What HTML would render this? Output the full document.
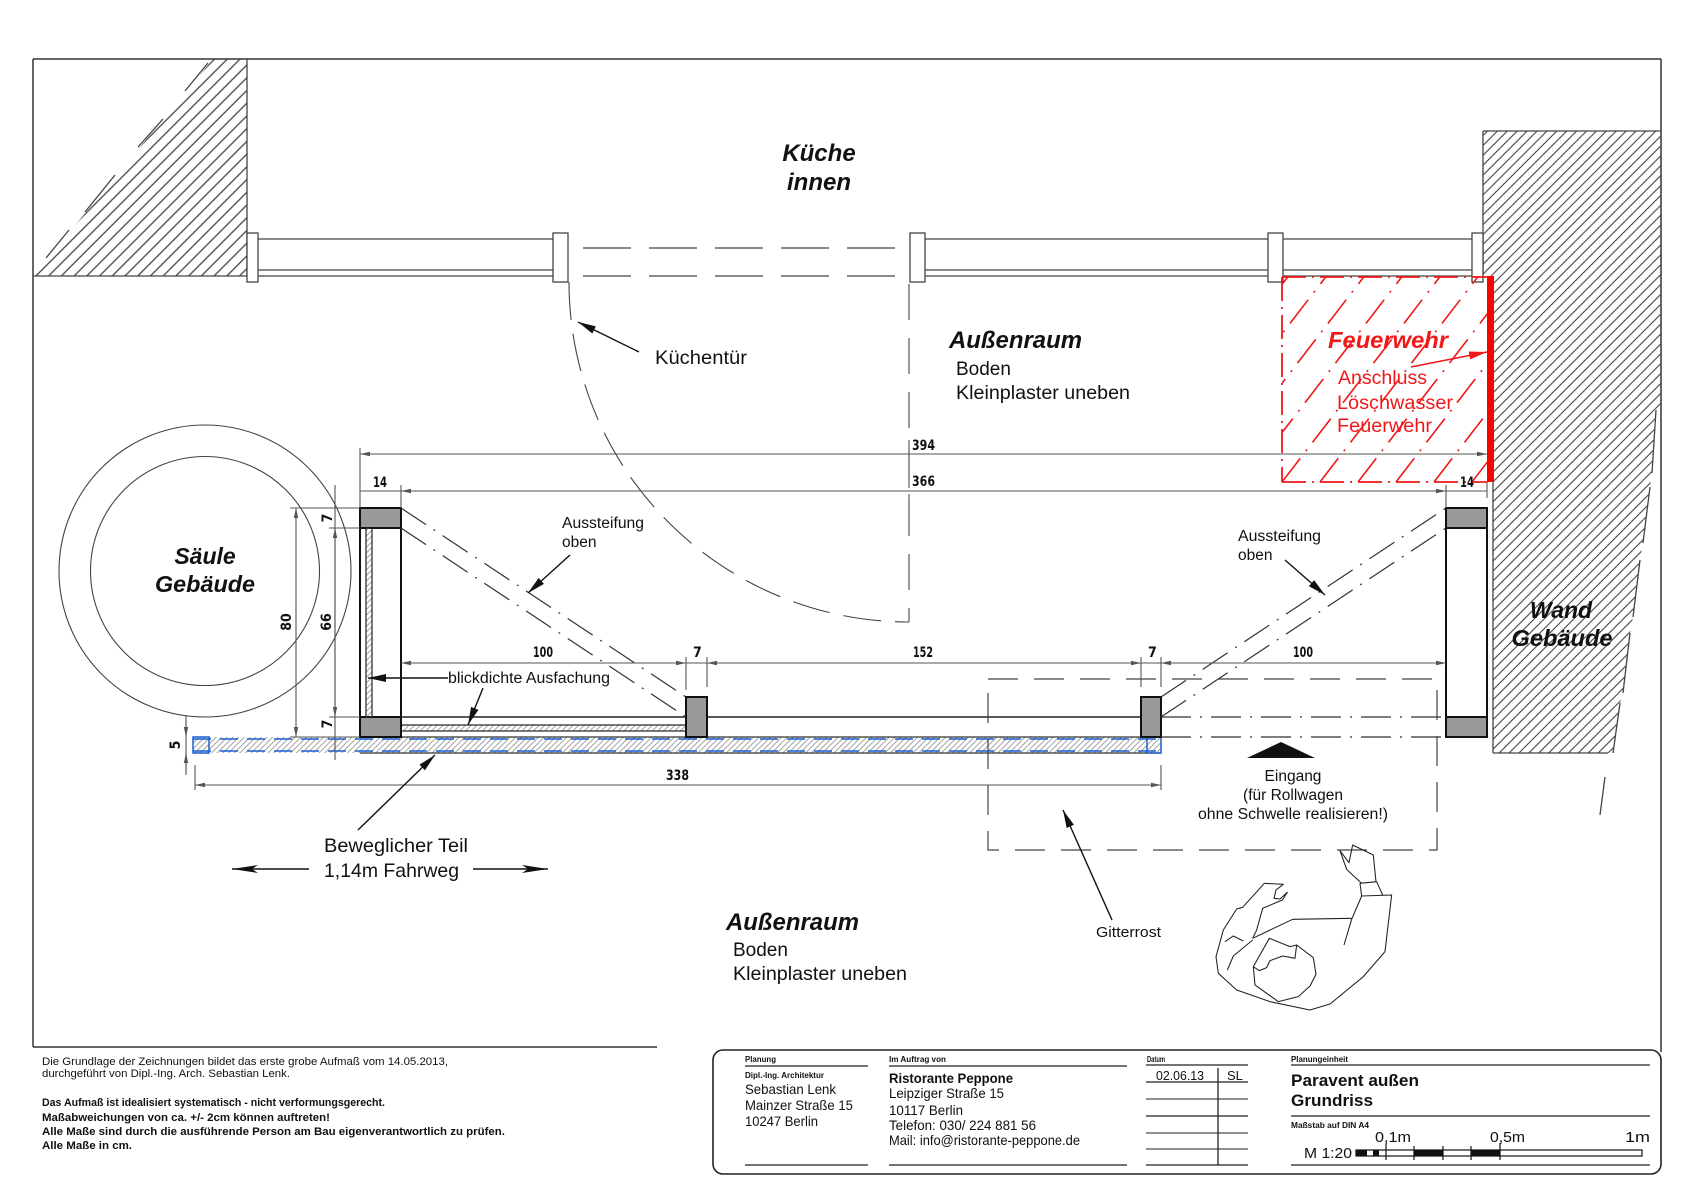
<!DOCTYPE html>
<html><head><meta charset="utf-8"><style>
html,body{margin:0;padding:0;background:#fff;}
svg{display:block;}
text{font-family:"Liberation Sans",Arial,sans-serif;fill:#111;}
.bi{font-weight:bold;font-style:italic;}
.b{font-weight:bold;}
.dim{font-family:"Liberation Sans Narrow","DejaVu Sans Condensed","Liberation Sans",sans-serif;font-weight:bold;font-size:14px;}
.red{fill:#f01818;}
</style></head><body>
<svg width="1698" height="1200" viewBox="0 0 1698 1200" xmlns="http://www.w3.org/2000/svg">
<defs>
<pattern id="hL" width="9" height="9" patternUnits="userSpaceOnUse" patternTransform="rotate(45)"><line x1="4.5" y1="0" x2="4.5" y2="9" stroke="#444" stroke-width="1.3"/></pattern>
<pattern id="hR" width="7" height="7" patternUnits="userSpaceOnUse" patternTransform="rotate(45)"><line x1="3.5" y1="0" x2="3.5" y2="7" stroke="#444" stroke-width="1.1"/></pattern>
<pattern id="hB" width="4" height="4" patternUnits="userSpaceOnUse" patternTransform="rotate(45)"><line x1="2" y1="0" x2="2" y2="4" stroke="#999" stroke-width="0.9"/></pattern>
<clipPath id="cpL"><polygon points="33,276 247,276 247,59 213,59"/></clipPath>
<clipPath id="cpR"><polygon points="1483,131 1661,131 1661,405 1656,410 1652,473 1650,487 1643,543 1640,560 1633,617 1630,633 1623,693 1620,703 1613,753 1493,753 1493,276 1483,276"/></clipPath>
<clipPath id="cpF"><rect x="1282" y="276" width="205" height="206"/></clipPath>
<marker id="ar" viewBox="0 0 10 6" refX="10" refY="3" markerWidth="10" markerHeight="6" markerUnits="userSpaceOnUse" orient="auto-start-reverse"><path d="M0,0.8 L10,3 L0,5.2z" fill="#555"/></marker>
<marker id="arK" viewBox="0 0 18 8" refX="18" refY="4" markerWidth="18" markerHeight="8" markerUnits="userSpaceOnUse" orient="auto"><path d="M0,0 L18,4 L0,8z" fill="#111"/></marker>
<marker id="arW" viewBox="0 0 26 8" refX="26" refY="4" markerWidth="26" markerHeight="8" markerUnits="userSpaceOnUse" orient="auto"><path d="M0,0 L26,4 L0,8 L6,4z" fill="#111"/></marker>
<marker id="arRed" viewBox="0 0 18 8" refX="18" refY="4" markerWidth="18" markerHeight="8" markerUnits="userSpaceOnUse" orient="auto"><path d="M0,0 L18,4 L0,8z" fill="#f01818"/></marker>
</defs>

<!-- Frame -->
<g stroke="#333" stroke-width="1.5" fill="none">
<line x1="33" y1="59" x2="1661" y2="59"/>
<line x1="33" y1="59" x2="33" y2="1047"/>
<line x1="1661" y1="59" x2="1661" y2="1052"/>
<line x1="33" y1="1047" x2="657" y2="1047"/>
</g>

<!-- Left wall -->
<rect x="33" y="59" width="214" height="217" fill="url(#hL)" clip-path="url(#cpL)"/>
<g stroke="#444" stroke-width="1.3">
<line x1="247" y1="59" x2="247" y2="276"/>
<line x1="33" y1="276" x2="247" y2="276"/>
<line x1="185" y1="91" x2="208" y2="63"/>
<line x1="138" y1="147" x2="163" y2="119"/>
<line x1="85" y1="212" x2="115" y2="175"/>
<line x1="46" y1="258" x2="69" y2="230"/>
</g>

<!-- Right wall -->
<rect x="1483" y="131" width="178" height="622" fill="url(#hR)" clip-path="url(#cpR)"/>
<g stroke="#444" stroke-width="1.3" fill="none">
<line x1="1483" y1="131" x2="1661" y2="131"/>
<line x1="1483" y1="131" x2="1483" y2="276"/>
<line x1="1493" y1="276" x2="1493" y2="753"/>
<line x1="1493" y1="753" x2="1608" y2="753"/>
<line x1="1656" y1="410" x2="1652" y2="473"/>
<line x1="1650" y1="487" x2="1643" y2="543"/>
<line x1="1640" y1="560" x2="1633" y2="617"/>
<line x1="1630" y1="633" x2="1623" y2="693"/>
<line x1="1620" y1="703" x2="1613" y2="753"/>
<line x1="1605" y1="777" x2="1600" y2="815"/>
</g>

<!-- Window top -->
<g stroke="#444" stroke-width="1.3" fill="none">
<line x1="258" y1="239" x2="553" y2="239"/><line x1="258" y1="270" x2="553" y2="270"/><line x1="258" y1="276" x2="553" y2="276"/>
<line x1="925" y1="239" x2="1268" y2="239"/><line x1="925" y1="270" x2="1268" y2="270"/><line x1="925" y1="276" x2="1268" y2="276"/>
<line x1="1283" y1="239" x2="1472" y2="239"/><line x1="1283" y1="270" x2="1472" y2="270"/><line x1="1283" y1="276" x2="1472" y2="276"/>
<line x1="568" y1="248" x2="910" y2="248" stroke-dasharray="48 18" stroke-dashoffset="-15"/>
<line x1="568" y1="276" x2="910" y2="276" stroke-dasharray="48 18" stroke-dashoffset="-15"/>
</g>
<g stroke="#444" stroke-width="1.3" fill="#fff">
<rect x="247" y="233" width="11" height="49"/>
<rect x="553" y="233" width="15" height="49"/>
<rect x="910" y="233" width="15" height="49"/>
<rect x="1268" y="233" width="15" height="49"/>
<rect x="1472" y="233" width="11" height="49"/>
</g>

<!-- Door swing -->
<g stroke="#444" stroke-width="1.1" fill="none">
<path d="M569 282 A340 340 0 0 0 909 622" stroke-dasharray="38 14"/>
<line x1="909" y1="284" x2="909" y2="622" stroke-dasharray="36 18"/>
</g>
<line x1="639" y1="352" x2="578" y2="322" stroke="#111" stroke-width="1.4" marker-end="url(#arK)"/>

<!-- Red Feuerwehr zone -->
<g clip-path="url(#cpF)" stroke="#f01818" stroke-width="1.6" stroke-dasharray="30 9 2 9">
<line x1="1130" y1="482" x2="1290" y2="274"/>
<line x1="1168" y1="482" x2="1328" y2="274"/>
<line x1="1206" y1="482" x2="1366" y2="274"/>
<line x1="1244" y1="482" x2="1404" y2="274"/>
<line x1="1282" y1="482" x2="1442" y2="274"/>
<line x1="1320" y1="482" x2="1480" y2="274"/>
<line x1="1358" y1="482" x2="1518" y2="274"/>
<line x1="1396" y1="482" x2="1556" y2="274"/>
<line x1="1434" y1="482" x2="1594" y2="274"/>
<line x1="1472" y1="482" x2="1632" y2="274"/>
</g>
<g stroke="#f01818" stroke-width="1.8" fill="none" stroke-dasharray="24 6 2 6">
<line x1="1282" y1="277" x2="1487" y2="277"/>
<line x1="1282" y1="277" x2="1282" y2="482"/>
<line x1="1282" y1="482" x2="1487" y2="482"/>
</g>
<rect x="1487" y="276" width="7" height="206" fill="#ff0000"/>
<text class="bi red" x="1328" y="348" font-size="23" textLength="120" lengthAdjust="spacingAndGlyphs">Feuerwehr</text>
<text class="red" x="1338" y="384" font-size="19" textLength="89" lengthAdjust="spacingAndGlyphs">Anschluss</text>
<text class="red" x="1337" y="409" font-size="19" textLength="116" lengthAdjust="spacingAndGlyphs">Löschwasser</text>
<text class="red" x="1337" y="432" font-size="19" textLength="95" lengthAdjust="spacingAndGlyphs">Feuerwehr</text>
<line x1="1411" y1="367" x2="1487" y2="352" stroke="#f01818" stroke-width="1.6" marker-end="url(#arRed)"/>

<!-- Säule -->
<g stroke="#444" stroke-width="1.1" fill="none">
<circle cx="205" cy="571" r="146"/>
<circle cx="205" cy="571" r="114.5"/>
</g>
<text class="bi" x="205" y="564" font-size="23" text-anchor="middle">Säule</text>
<text class="bi" x="205" y="592" font-size="23" text-anchor="middle" textLength="100" lengthAdjust="spacingAndGlyphs">Gebäude</text>

<!-- Beam (base) -->
<rect x="193" y="737" width="968" height="16" fill="url(#hB)"/>
<g stroke="#333" stroke-width="1.2">
<line x1="360" y1="737" x2="1161" y2="737"/>
<line x1="360" y1="753" x2="1161" y2="753"/>
</g>
<g stroke="#1a5fd0" stroke-width="1.5" stroke-dasharray="18 9">
<line x1="193" y1="739" x2="1161" y2="739"/>
<line x1="193" y1="751" x2="1161" y2="751"/>
</g>
<g stroke="#1a5fd0" stroke-width="1.5" fill="none">
<rect x="193" y="737" width="16" height="16"/>
<rect x="1147" y="737" width="14" height="16"/>
</g>

<!-- Rails -->
<g stroke="#222" stroke-width="1.6">
<line x1="401" y1="717" x2="686" y2="717"/>
<line x1="707" y1="717" x2="1141" y2="717"/>
</g>
<rect x="401" y="725" width="285" height="6" fill="url(#hB)" stroke="#222" stroke-width="1.2"/>

<!-- Posts -->
<g stroke="#111" stroke-width="2">
<rect x="360" y="508" width="41" height="229" fill="#fff"/>
<rect x="360" y="508" width="41" height="20" fill="#999"/>
<rect x="360" y="717" width="41" height="20" fill="#999"/>
<rect x="1446" y="508" width="41" height="229" fill="#fff"/>
<rect x="1446" y="508" width="41" height="20" fill="#999"/>
<rect x="1446" y="717" width="41" height="20" fill="#999"/>
<rect x="686" y="697" width="21" height="40" fill="#999"/>
<rect x="1141" y="697" width="20" height="40" fill="#999"/>
</g>
<rect x="366" y="528" width="6" height="189" fill="url(#hB)" stroke="#222" stroke-width="1.2"/>

<!-- Bracing dash-dot -->
<g stroke="#333" stroke-width="1.2" stroke-dasharray="30 9 2 9" fill="none">
<line x1="401" y1="508" x2="686" y2="697"/>
<line x1="401" y1="528" x2="686" y2="717"/>
<line x1="1161" y1="697" x2="1446" y2="508"/>
<line x1="1161" y1="717" x2="1446" y2="528"/>
<line x1="1161" y1="717" x2="1446" y2="717"/>
<line x1="1161" y1="737" x2="1446" y2="737"/>
</g>

<!-- Gitterrost dashed rect -->
<rect x="988" y="679" width="449" height="171" fill="none" stroke="#444" stroke-width="1.2" stroke-dasharray="30 16"/>

<!-- Entrance triangle -->
<polygon points="1281,742 1247,758 1315,758" fill="#111"/>

<!-- Dimension lines -->
<g stroke="#555" stroke-width="1.1" fill="none">
<line x1="360" y1="448" x2="360" y2="508"/>
<line x1="401" y1="485" x2="401" y2="508"/>
<line x1="1446" y1="485" x2="1446" y2="508"/>
<line x1="1487" y1="482" x2="1487" y2="498"/>
<line x1="360" y1="454" x2="1487" y2="454" marker-start="url(#ar)" marker-end="url(#ar)"/>
<line x1="401" y1="491" x2="1446" y2="491" marker-start="url(#ar)" marker-end="url(#ar)"/>
<line x1="360" y1="491" x2="401" y2="491"/>
<line x1="1446" y1="491" x2="1487" y2="491"/>
<line x1="909" y1="440" x2="909" y2="500" stroke-dasharray="12 6"/>
<line x1="401" y1="663" x2="1446" y2="663"/>
<line x1="401" y1="663" x2="686" y2="663" marker-start="url(#ar)" marker-end="url(#ar)"/>
<line x1="707" y1="663" x2="1141" y2="663" marker-start="url(#ar)" marker-end="url(#ar)"/>
<line x1="1161" y1="663" x2="1446" y2="663" marker-start="url(#ar)" marker-end="url(#ar)"/>
<line x1="686" y1="657" x2="686" y2="690"/>
<line x1="707" y1="657" x2="707" y2="687"/>
<line x1="1141" y1="657" x2="1141" y2="687"/>
<line x1="1161" y1="657" x2="1161" y2="687"/>
<line x1="290" y1="508" x2="360" y2="508"/>
<line x1="290" y1="737" x2="360" y2="737"/>
<line x1="296" y1="508" x2="296" y2="737" marker-start="url(#ar)" marker-end="url(#ar)"/>
<line x1="329" y1="528" x2="360" y2="528"/>
<line x1="329" y1="717" x2="360" y2="717"/>
<line x1="335" y1="485" x2="335" y2="760"/>
<line x1="335" y1="528" x2="335" y2="717" marker-start="url(#ar)" marker-end="url(#ar)"/>
<line x1="186" y1="715" x2="186" y2="775"/>
<line x1="186" y1="720" x2="186" y2="737" marker-end="url(#ar)"/>
<line x1="186" y1="772" x2="186" y2="753" marker-end="url(#ar)"/>
<line x1="195" y1="765" x2="195" y2="790"/>
<line x1="1161" y1="765" x2="1161" y2="790"/>
<line x1="195" y1="785" x2="1161" y2="785" marker-start="url(#ar)" marker-end="url(#ar)"/>
</g>

<!-- Dimension texts -->
<text class="dim" x="912" y="450" textLength="23" lengthAdjust="spacingAndGlyphs">394</text>
<text class="dim" x="912" y="486" textLength="23" lengthAdjust="spacingAndGlyphs">366</text>
<text class="dim" x="373" y="487" textLength="14" lengthAdjust="spacingAndGlyphs">14</text>
<text class="dim" x="1460" y="487" textLength="14" lengthAdjust="spacingAndGlyphs">14</text>
<text class="dim" x="533" y="657" textLength="20" lengthAdjust="spacingAndGlyphs">100</text>
<text class="dim" x="693" y="657">7</text>
<text class="dim" x="913" y="657" textLength="20" lengthAdjust="spacingAndGlyphs">152</text>
<text class="dim" x="1148" y="657">7</text>
<text class="dim" x="1293" y="657" textLength="20" lengthAdjust="spacingAndGlyphs">100</text>
<text class="dim" x="666" y="780" textLength="23" lengthAdjust="spacingAndGlyphs">338</text>
<text class="dim" transform="translate(291,622) rotate(-90)" text-anchor="middle">80</text>
<text class="dim" transform="translate(331,622) rotate(-90)" text-anchor="middle">66</text>
<text class="dim" transform="translate(332,518) rotate(-90)" text-anchor="middle">7</text>
<text class="dim" transform="translate(332,724) rotate(-90)" text-anchor="middle">7</text>
<text class="dim" transform="translate(180,745) rotate(-90)" text-anchor="middle">5</text>

<!-- Label arrows -->
<g stroke="#111" stroke-width="1.4" fill="none">
<line x1="570" y1="555" x2="528" y2="593" marker-end="url(#arK)"/>
<line x1="1285" y1="560" x2="1325" y2="595" marker-end="url(#arK)"/>
<line x1="448" y1="678" x2="368" y2="678" marker-end="url(#arK)"/>
<line x1="483" y1="688" x2="468" y2="725" marker-end="url(#arK)"/>
<line x1="358" y1="830" x2="435" y2="755" marker-end="url(#arK)"/>
<line x1="1112" y1="920" x2="1063" y2="810" marker-end="url(#arK)"/>
<line x1="309" y1="869" x2="232" y2="869" marker-end="url(#arW)"/>
<line x1="473" y1="869" x2="548" y2="869" marker-end="url(#arW)"/>
</g>

<!-- Labels -->
<text class="bi" x="819" y="161" font-size="24" text-anchor="middle">Küche</text>
<text class="bi" x="819" y="190" font-size="24" text-anchor="middle">innen</text>
<text x="655" y="364" font-size="19.5" textLength="92" lengthAdjust="spacingAndGlyphs">Küchentür</text>
<text class="bi" x="949" y="348" font-size="24" textLength="133" lengthAdjust="spacingAndGlyphs">Außenraum</text>
<text x="956" y="375" font-size="19">Boden</text>
<text x="956" y="399" font-size="19" textLength="174" lengthAdjust="spacingAndGlyphs">Kleinplaster uneben</text>
<text x="562" y="528" font-size="15.5" textLength="82" lengthAdjust="spacingAndGlyphs">Aussteifung</text>
<text x="562" y="547" font-size="15.5">oben</text>
<text x="1238" y="541" font-size="15.5" textLength="83" lengthAdjust="spacingAndGlyphs">Aussteifung</text>
<text x="1238" y="560" font-size="15.5">oben</text>
<text x="448" y="683" font-size="15.5" textLength="162" lengthAdjust="spacingAndGlyphs">blickdichte Ausfachung</text>
<text class="bi" x="1561" y="618" font-size="23" text-anchor="middle">Wand</text>
<text class="bi" x="1562" y="646" font-size="23" text-anchor="middle" textLength="101" lengthAdjust="spacingAndGlyphs">Gebäude</text>
<text x="1293" y="781" font-size="15.5" text-anchor="middle">Eingang</text>
<text x="1293" y="800" font-size="15.5" text-anchor="middle">(für Rollwagen</text>
<text x="1293" y="819" font-size="15.5" text-anchor="middle" textLength="190" lengthAdjust="spacingAndGlyphs">ohne Schwelle realisieren!)</text>
<text x="1096" y="937" font-size="15" textLength="65" lengthAdjust="spacingAndGlyphs">Gitterrost</text>
<text x="324" y="852" font-size="19.5" textLength="144" lengthAdjust="spacingAndGlyphs">Beweglicher Teil</text>
<text x="324" y="877" font-size="19.5" textLength="135" lengthAdjust="spacingAndGlyphs">1,14m Fahrweg</text>
<text class="bi" x="726" y="930" font-size="24" textLength="133" lengthAdjust="spacingAndGlyphs">Außenraum</text>
<text x="733" y="956" font-size="19">Boden</text>
<text x="733" y="980" font-size="19" textLength="174" lengthAdjust="spacingAndGlyphs">Kleinplaster uneben</text>

<!-- Person figure -->
<g transform="translate(1200,830) scale(0.3333)" stroke="#222" stroke-width="3.2" fill="none" stroke-linejoin="round">
<polyline points="193,160 250,163 228,180 222,205 240,207 262,187 247,210 188,235 170,300 158,325"/>
<polyline points="193,160 128,232 110,237 70,300 48,380 55,430 110,480 210,515 330,540 390,522 490,440 555,365 575,195 485,198"/>
<polyline points="158,325 278,268 455,265"/>
<polyline points="485,198 455,268 432,345"/>
<polyline points="480,160 530,155 548,195"/>
<polyline points="480,160 485,198"/>
<polyline points="485,160 440,118 420,62 447,98 458,45 520,75 528,155"/>
<polygon points="160,410 208,325 270,350 290,345 285,385 248,378 210,392 200,413 178,422"/>
<polyline points="160,410 165,465 235,515 295,500 330,468 348,433 340,383 290,345"/>
<polyline points="82,420 100,378 158,330"/>
<polyline points="75,335 100,318 130,333"/>
</g>

<!-- Bottom-left notes -->
<text x="42" y="1065" font-size="11" textLength="406" lengthAdjust="spacingAndGlyphs">Die Grundlage der Zeichnungen bildet das erste grobe Aufmaß vom 14.05.2013,</text>
<text x="42" y="1077" font-size="11" textLength="248" lengthAdjust="spacingAndGlyphs">durchgeführt von Dipl.-Ing. Arch. Sebastian Lenk.</text>
<text class="b" x="42" y="1106" font-size="11" textLength="343" lengthAdjust="spacingAndGlyphs">Das Aufmaß ist idealisiert systematisch - nicht verformungsgerecht.</text>
<text class="b" x="42" y="1121" font-size="11" textLength="288" lengthAdjust="spacingAndGlyphs">Maßabweichungen von ca. +/- 2cm können auftreten!</text>
<text class="b" x="42" y="1135" font-size="11" textLength="463" lengthAdjust="spacingAndGlyphs">Alle Maße sind durch die ausführende Person am Bau eigenverantwortlich zu prüfen.</text>
<text class="b" x="42" y="1149" font-size="11" textLength="90" lengthAdjust="spacingAndGlyphs">Alle Maße in cm.</text>

<!-- Title block -->
<rect x="713" y="1050" width="948" height="124" rx="10" ry="10" fill="#fff" stroke="#222" stroke-width="1.6"/>
<g stroke="#222" stroke-width="1.3">
<line x1="745" y1="1066" x2="868" y2="1066"/><line x1="745" y1="1165" x2="868" y2="1165"/>
<line x1="889" y1="1066" x2="1127" y2="1066"/><line x1="889" y1="1165" x2="1127" y2="1165"/>
<line x1="1146" y1="1065" x2="1248" y2="1065"/>
<line x1="1146" y1="1082" x2="1248" y2="1082"/>
<line x1="1146" y1="1099" x2="1248" y2="1099" stroke-width="0.9"/>
<line x1="1146" y1="1116" x2="1248" y2="1116"/>
<line x1="1146" y1="1133" x2="1248" y2="1133" stroke-width="0.9"/>
<line x1="1146" y1="1149" x2="1248" y2="1149" stroke-width="0.9"/>
<line x1="1146" y1="1165" x2="1248" y2="1165"/>
<line x1="1218" y1="1068" x2="1218" y2="1165"/>
<line x1="1291" y1="1065" x2="1650" y2="1065"/>
<line x1="1291" y1="1116" x2="1650" y2="1116"/>
<line x1="1291" y1="1165" x2="1650" y2="1165"/>
</g>
<text class="b" x="745" y="1062" font-size="8" textLength="31" lengthAdjust="spacingAndGlyphs">Planung</text>
<text class="b" x="745" y="1078" font-size="8" textLength="79" lengthAdjust="spacingAndGlyphs">Dipl.-Ing. Architektur</text>
<text x="745" y="1094" font-size="14" textLength="91" lengthAdjust="spacingAndGlyphs">Sebastian Lenk</text>
<text x="745" y="1110" font-size="14" textLength="108" lengthAdjust="spacingAndGlyphs">Mainzer Straße 15</text>
<text x="745" y="1126" font-size="14" textLength="73" lengthAdjust="spacingAndGlyphs">10247 Berlin</text>
<text class="b" x="889" y="1062" font-size="8" textLength="57" lengthAdjust="spacingAndGlyphs">Im Auftrag von</text>
<text class="b" x="889" y="1083" font-size="14" textLength="124" lengthAdjust="spacingAndGlyphs">Ristorante Peppone</text>
<text x="889" y="1098" font-size="14" textLength="115" lengthAdjust="spacingAndGlyphs">Leipziger Straße 15</text>
<text x="889" y="1115" font-size="14" textLength="74" lengthAdjust="spacingAndGlyphs">10117 Berlin</text>
<text x="889" y="1130" font-size="14" textLength="147" lengthAdjust="spacingAndGlyphs">Telefon: 030/ 224 881 56</text>
<text x="889" y="1145" font-size="14" textLength="191" lengthAdjust="spacingAndGlyphs">Mail: info@ristorante-peppone.de</text>
<text class="b" x="1147" y="1062" font-size="8" textLength="18" lengthAdjust="spacingAndGlyphs">Datum</text>
<text x="1156" y="1080" font-size="13" textLength="48" lengthAdjust="spacingAndGlyphs">02.06.13</text>
<text x="1227" y="1080" font-size="13">SL</text>
<text class="b" x="1291" y="1062" font-size="8" textLength="57" lengthAdjust="spacingAndGlyphs">Planungeinheit</text>
<text class="b" x="1291" y="1086" font-size="16.5" textLength="128" lengthAdjust="spacingAndGlyphs">Paravent außen</text>
<text class="b" x="1291" y="1106" font-size="16.5" textLength="82" lengthAdjust="spacingAndGlyphs">Grundriss</text>
<text class="b" x="1291" y="1128" font-size="8" textLength="78" lengthAdjust="spacingAndGlyphs">Maßstab auf DIN A4</text>
<text x="1375" y="1142" font-size="15" textLength="36" lengthAdjust="spacingAndGlyphs">0,1m</text>
<text x="1490" y="1142" font-size="15" textLength="35" lengthAdjust="spacingAndGlyphs">0,5m</text>
<text x="1625" y="1142" font-size="15" textLength="25" lengthAdjust="spacingAndGlyphs">1m</text>
<text x="1304" y="1158" font-size="15" textLength="48" lengthAdjust="spacingAndGlyphs">M 1:20</text>
<rect x="1356" y="1150" width="286" height="6" fill="#fff" stroke="#111" stroke-width="1.2"/>
<g fill="#111">
<rect x="1356" y="1150" width="11" height="6"/>
<rect x="1373" y="1150" width="6" height="6"/>
<rect x="1414" y="1150" width="29" height="6"/>
<rect x="1471" y="1150" width="29" height="6"/>
</g>
<g stroke="#111" stroke-width="1.2">
<line x1="1386" y1="1143" x2="1386" y2="1160"/>
<line x1="1414" y1="1146" x2="1414" y2="1160"/>
<line x1="1443" y1="1146" x2="1443" y2="1160"/>
<line x1="1471" y1="1146" x2="1471" y2="1160"/>
<line x1="1500" y1="1143" x2="1500" y2="1160"/>
</g>
</svg>
</body></html>
